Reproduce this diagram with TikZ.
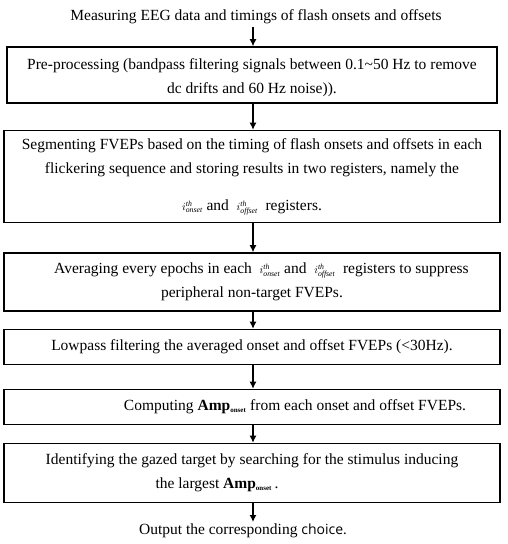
\documentclass[tikz,border=0pt]{standalone}
\usepackage{fontspec}
\setmainfont{Liberation Serif}
\newfontfamily\choicefont{Open Sans}
\usetikzlibrary{arrows.meta}
\begin{document}
\begin{tikzpicture}[x=1pt,y=-1pt,
  box/.style={draw,line width=1.6pt,inner sep=0pt,align=center,
    font=\fontsize{15.5}{24}\selectfont},
  plain/.style={inner sep=0pt,font=\fontsize{15.5}{24}\selectfont},
  conn/.style={line width=1.2pt,-{Latex[length=7pt,width=7pt]}}]
\useasboundingbox (0,0) rectangle (508,544);
\newcommand{\ith}[1]{$\scriptstyle i^{\mathit{th}}_{\mathit{#1}}$}
\newcommand{\amp}{\textbf{Amp\textsubscript{\scriptsize onset}}}
\node[plain] (t0) at (256,17) {Measuring EEG data and timings of flash onsets and offsets};
\node[box,minimum width=490pt,minimum height=56pt] (b1) at (252,75)
  {\rule{0pt}{16pt}Pre-processing (bandpass filtering signals between 0.1\textasciitilde50 Hz to remove\\dc drifts and 60 Hz noise)).};
\node[box,minimum width=496pt,minimum height=92pt] (b2) at (252,176.5)
  {Segmenting FVEPs based on the timing of flash onsets and offsets in each\\flickering sequence and storing results in two registers, namely the\\[13pt]\ith{onset} and \ \ith{offset} \ registers.};
\node[box,minimum width=496pt,minimum height=58pt] (b3) at (252,282)
  {\hspace{19pt}Averaging every epochs in each \ \ith{onset} and \ \ith{offset} \ registers to suppress\\peripheral non-target FVEPs.};
\node[box,minimum width=496pt,minimum height=35pt] (b4) at (252,347)
  {Lowpass filtering the averaged onset and offset FVEPs (<30Hz).};
\node[box,minimum width=496pt,minimum height=35pt] (b5) at (252,407)
  {\hspace{86pt}Computing \amp\ from each onset and offset FVEPs.};
\node[box,minimum width=496pt,minimum height=59pt] (b6) at (252,473)
  {Identifying the gazed target by searching for the stimulus inducing\\\hspace*{-70pt}the largest \amp\,.};
\node[plain] (t7) at (243,531) {Output the corresponding {\choicefont\fontsize{14}{16}\selectfont choice.}};
\draw[conn] (253,27) -- (b1.north -| 253,0);
\draw[conn] (b1.south -| 253,0) -- (b2.north -| 253,0);
\draw[conn] (b2.south -| 253,0) -- (b3.north -| 253,0);
\draw[conn] (b3.south -| 253,0) -- (b4.north -| 253,0);
\draw[conn] (b4.south -| 253,0) -- (b5.north -| 253,0);
\draw[conn] (b5.south -| 253,0) -- (b6.north -| 253,0);
\draw[conn] (b6.south -| 253,0) -- (253,522);
\end{tikzpicture}
\end{document}
